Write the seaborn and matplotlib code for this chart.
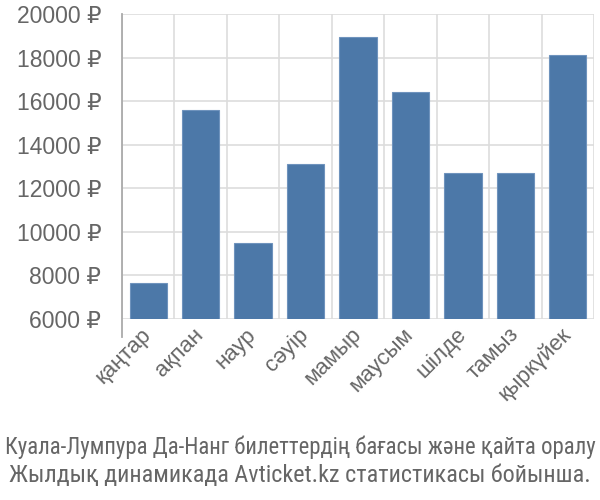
import matplotlib
matplotlib.use("Agg")
import matplotlib.pyplot as plt
import seaborn as sns
import pandas as pd
import numpy as np
from matplotlib.ticker import FixedLocator

months = ["қаңтар", "ақпан", "наур", "сәуір", "мамыр", "маусым", "шілде", "тамыз", "қыркүйек"]
prices = [7650, 15600, 9480, 13100, 18930, 16400, 12700, 12700, 18120]
yticks = [6000, 8000, 10000, 12000, 14000, 16000, 18000, 20000]
caption_lines = ["Куала-Лумпура Да-Нанг билеттердің бағасы және қайта оралу",
                 "Жылдық динамикада Avticket.kz статистикасы бойынша."]

sns.set_style("white")
FAM = ["Liberation Sans", "DejaVu Sans"]
plt.rcParams['font.family'] = FAM

df = pd.DataFrame({"month": months, "price": prices})

fig = plt.figure(figsize=(6, 5), dpi=100)
ax = fig.add_axes([122/600, 1 - 319/500, (594-122)/600, (319-14)/500])

sns.barplot(data=df, x="month", y="price", color="#4c78a8", saturation=1,
            width=0.71, edgecolor="#6f93bd", linewidth=0.8, ax=ax, zorder=3)

ax.set_ylim(6000, 20000)
ax.set_xlim(-0.5, len(months) - 0.5)
ax.set_yticks(yticks)
ax.set_yticklabels([f"{v} ₽" for v in yticks], family=FAM)
ax.set_xticks(range(len(months)))
ax.set_xticklabels(months, family=FAM)
ax.xaxis.set_minor_locator(FixedLocator(np.arange(-0.5, len(months), 1.0)))
ax.grid(axis="y", which="major", color="#dddddd", linewidth=1.2, zorder=0)
ax.grid(axis="x", which="minor", color="#dddddd", linewidth=1.2, zorder=0)
ax.set_axisbelow(True)
for s in ["top", "right", "bottom"]:
    ax.spines[s].set_visible(False)
ax.spines["left"].set_color("#aaaaaa")
ax.spines["left"].set_linewidth(1.3)
ax.spines["left"].set_bounds(5180, 20000)

ax.tick_params(axis="y", which="major", length=13.5, color="#dddddd", width=1.2,
               labelsize=16.5, labelcolor="#666666", pad=1.5)
ax.tick_params(axis="x", which="major", length=0, labelsize=16, labelcolor="#666666", pad=9)
ax.tick_params(axis="x", which="minor", length=13, color="#dddddd", width=1.2)
plt.setp(ax.get_xticklabels(), rotation=45, ha="right", va="center", rotation_mode="anchor")
ax.set_xlabel("")
ax.set_ylabel("")

CAPFAM = ["Roboto Condensed", "DejaVu Sans"]
fig.text(0.5, 1 - 447/500, caption_lines[0], ha="center", va="center",
         fontsize=16.4, color="#666666", family=CAPFAM)
fig.text(0.5, 1 - 475/500, caption_lines[1], ha="center", va="center",
         fontsize=17.4, color="#666666", family=CAPFAM)

fig.savefig("out.png", dpi=100)
